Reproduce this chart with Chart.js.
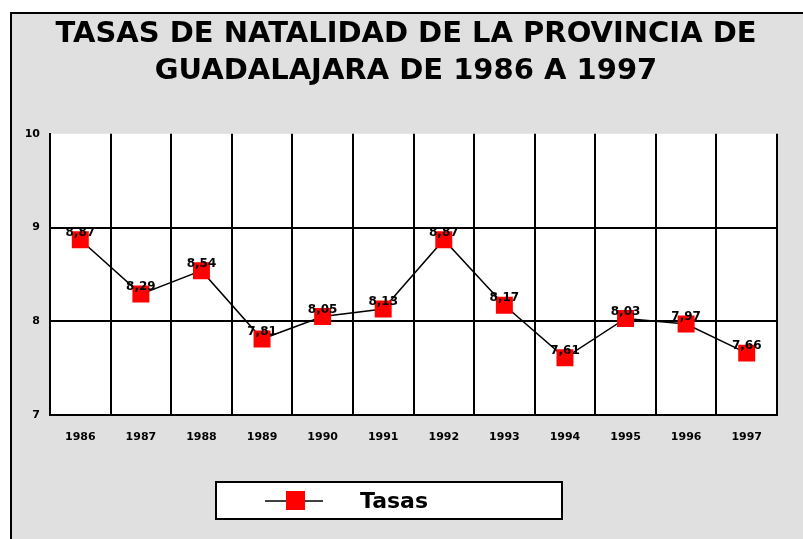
<!DOCTYPE html>
<html lang="es">
<head>
    <meta charset="UTF-8">
    <title>Tasas de natalidad</title>
    <script src="https://cdn.jsdelivr.net/npm/chart.js"></script>
    <style>
        body { margin: 0; background: white; }
        .chart-wrapper { width: 803px; height: 539px; }
        canvas { width: 100% !important; height: 100% !important; }
    </style>
</head>
<body>
    <div class="chart-wrapper">
        <canvas id="tasasChart"></canvas>
    </div>

    <script>
        const titleLines = ['TASAS DE NATALIDAD DE LA PROVINCIA DE', 'GUADALAJARA DE 1986 A 1997'];
        const years = ['1986', '1987', '1988', '1989', '1990', '1991', '1992', '1993', '1994', '1995', '1996', '1997'];
        const tasas = [8.87, 8.29, 8.54, 7.81, 8.05, 8.13, 8.87, 8.17, 7.61, 8.03, 7.97, 7.66];
        const seriesName = 'Tasas';
        const yTicks = [7, 8, 9, 10];

        const fontFamily = '"DejaVu Sans", Arial, sans-serif';

        // grey frame behind everything + white plot area
        const backgroundPlugin = {
            id: 'background',
            beforeDraw(chart) {
                const { ctx, chartArea } = chart;
                ctx.save();
                ctx.fillStyle = '#ffffff';
                ctx.fillRect(0, 0, chart.width, chart.height);
                ctx.fillStyle = '#e0e0e0';
                ctx.fillRect(10, 12, chart.width - 10, chart.height - 12);
                ctx.strokeStyle = '#000';
                ctx.lineWidth = 2;
                ctx.beginPath();
                ctx.moveTo(11, chart.height);
                ctx.lineTo(11, 13);
                ctx.lineTo(chart.width, 13);
                ctx.stroke();
                ctx.fillStyle = '#ffffff';
                ctx.fillRect(chartArea.left, chartArea.top, chartArea.right - chartArea.left, chartArea.bottom - chartArea.top);
                ctx.restore();
            }
        };

        // title drawn centred on the whole page (the built-in one only reserves the space)
        const pageTitlePlugin = {
            id: 'pageTitle',
            afterDraw(chart) {
                const { ctx } = chart;
                ctx.save();
                ctx.font = 'bold 29px ' + fontFamily;
                ctx.fillStyle = '#000';
                ctx.textAlign = 'center';
                ctx.textBaseline = 'middle';
                titleLines.forEach((line, i) => ctx.fillText(line, 406, 34 + i * 37));
                ctx.restore();
            }
        };

        // value labels above each point, spanish decimal comma
        const valueLabelPlugin = {
            id: 'valueLabels',
            afterDatasetsDraw(chart) {
                const { ctx } = chart;
                const meta = chart.getDatasetMeta(0);
                const values = chart.data.datasets[0].data;
                ctx.save();
                ctx.font = 'bold 12px ' + fontFamily;
                ctx.fillStyle = '#000';
                ctx.textAlign = 'center';
                ctx.textBaseline = 'middle';
                meta.data.forEach((pt, i) => {
                    ctx.fillText(values[i].toFixed(2).replace('.', ','), pt.x, pt.y - 7);
                });
                ctx.restore();
            }
        };

        // boxed legend under the chart
        const boxLegendPlugin = {
            id: 'boxLegend',
            afterDraw(chart) {
                const { ctx } = chart;
                const ds = chart.data.datasets[0];
                ctx.save();
                ctx.fillStyle = '#ffffff';
                ctx.fillRect(216, 482, 346, 37);
                ctx.strokeStyle = '#000';
                ctx.lineWidth = 2;
                ctx.strokeRect(216, 482, 346, 37);
                ctx.lineWidth = 1.5;
                ctx.beginPath();
                ctx.moveTo(265, 501);
                ctx.lineTo(323, 501);
                ctx.stroke();
                ctx.fillStyle = ds.pointBackgroundColor;
                ctx.fillRect(286, 491, 19, 19);
                ctx.fillStyle = '#000';
                ctx.font = 'bold 22px ' + fontFamily;
                ctx.textBaseline = 'middle';
                ctx.fillText(ds.label, 360, 502);
                ctx.restore();
            }
        };

        const ctx = document.getElementById('tasasChart').getContext('2d');
        new Chart(ctx, {
            type: 'line',
            data: {
                labels: years,
                datasets: [{
                    label: seriesName,
                    data: tasas,
                    borderColor: '#000000',
                    borderWidth: 1.5,
                    tension: 0,
                    pointStyle: 'rect',
                    pointRadius: 12,
                    pointHoverRadius: 12,
                    pointBackgroundColor: '#ff0000',
                    pointBorderColor: '#ff0000',
                    pointBorderWidth: 0
                }]
            },
            options: {
                responsive: true,
                maintainAspectRatio: false,
                animation: false,
                layout: { padding: { left: 0, right: 26, top: 0, bottom: 0 } },
                plugins: {
                    legend: { display: false },
                    tooltip: { enabled: false },
                    title: {
                        display: true,
                        text: titleLines,
                        color: 'rgba(0,0,0,0)',
                        font: { family: fontFamily, size: 26, weight: 'bold', lineHeight: 1.4 },
                        padding: { top: 14, bottom: 47 }
                    }
                },
                scales: {
                    x: {
                        offset: true,
                        grid: {
                            offset: true,
                            drawTicks: false,
                            lineWidth: 2,
                            color: (c) => c.index === years.length ? 'rgba(0,0,0,0)' : '#000'
                        },
                        border: { display: true, color: '#000', width: 2 },
                        ticks: {
                            color: '#000',
                            padding: 16,
                            maxRotation: 0,
                            font: { family: fontFamily, size: 11, weight: 'bold' }
                        },
                        afterFit(scale) { scale.height = 124; }
                    },
                    y: {
                        min: yTicks[0],
                        max: yTicks[yTicks.length - 1],
                        afterBuildTicks(scale) { scale.ticks = yTicks.map(v => ({ value: v })); },
                        grid: {
                            drawTicks: false,
                            lineWidth: 2,
                            color: (c) => c.tick && c.tick.value === yTicks[yTicks.length - 1] ? 'rgba(0,0,0,0)' : '#000'
                        },
                        border: { display: true, color: '#000', width: 2 },
                        ticks: {
                            color: '#000',
                            padding: 10,
                            font: { family: fontFamily, size: 11, weight: 'bold' }
                        },
                        afterFit(scale) { scale.width = 50; }
                    }
                }
            },
            plugins: [backgroundPlugin, valueLabelPlugin, boxLegendPlugin, pageTitlePlugin]
        });
    </script>
</body>
</html>
